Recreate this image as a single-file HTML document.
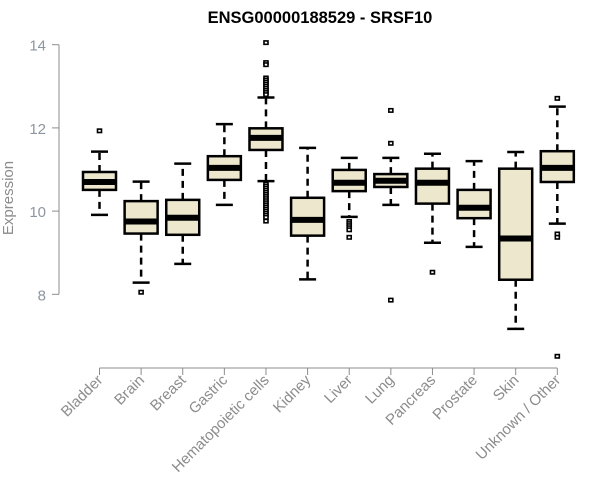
<!DOCTYPE html>
<html><head><meta charset="utf-8"><style>
body{margin:0;background:#fff}
svg{display:block;font-family:"Liberation Sans",Arial,sans-serif}
</style></head><body>
<svg id="chart" width="600" height="500">
<text x="320" y="23" text-anchor="middle" font-size="16.5" font-weight="bold">ENSG00000188529 - SRSF10</text>
<text transform="translate(13,198) rotate(-90)" text-anchor="middle" font-size="15" fill="#8c8c8c">Expression</text>
<g id="axes"></g><g id="boxes"></g>
</svg>
<script>
const categories=["Bladder","Brain","Breast","Gastric","Hematopoietic cells","Kidney","Liver","Lung","Pancreas","Prostate","Skin","Unknown / Other"];
const lowerWhisker=[9.91,8.28,8.73,10.15,10.72,8.36,9.86,10.15,9.24,9.14,7.17,9.70];
const q1=[10.51,9.46,9.43,10.75,11.47,9.41,10.48,10.58,10.18,9.83,8.35,10.70];
const medians=[10.70,9.75,9.84,11.04,11.76,9.79,10.68,10.73,10.68,10.08,9.34,11.04];
const q3=[10.94,10.24,10.27,11.32,11.99,10.32,10.99,10.89,11.02,10.51,11.02,11.44];
const upperWhisker=[11.43,10.71,11.14,12.09,12.73,11.52,11.28,11.28,11.38,11.20,11.42,12.51];
const outliers=[[11.93],[8.05],[],[],[14.05,13.57,13.52,13.2,13.15,13.1,13.05,13.0,12.95,12.9,12.85,12.8,10.65,10.6,10.55,10.5,10.45,10.4,10.35,10.3,10.25,10.2,10.15,10.1,10.05,10.0,9.95,9.9,9.85,9.76],[],[9.75,9.7,9.65,9.6,9.55,9.37],[12.42,11.63,7.86],[8.53],[],[],[12.71,9.45,9.37,6.51]];
const yTicks=[8,10,12,14];
const NS="http://www.w3.org/2000/svg";
const y=v=>294.3-(v-8)*41.6;
const x=i=>99.5+i*41.62;
function mk(t,a,p){const e=document.createElementNS(NS,t);for(const k in a)e.setAttribute(k,a[k]);p.appendChild(e);return e;}
const ax=document.getElementById('axes'),bx=document.getElementById('boxes');
let yl=mk('line',{x1:59,x2:59,y1:y(14),y2:y(8),stroke:'#8c8c8c'},ax);


yTicks.forEach(t=>{
 let l=mk('line',{x1:52,x2:59,y1:y(t),y2:y(t),stroke:'#8c8c8c'},ax);
 
 
 let tx=mk('text',{x:46,y:y(t)+6,'text-anchor':'end','font-size':15,fill:'#8c96a0'},ax);
 tx.textContent=t;
 
 
});
let xl=mk('line',{x1:x(0),x2:x(categories.length-1),y1:368,y2:368,stroke:'#8c8c8c'},ax);


categories.forEach((c,i)=>{
 let l=mk('line',{x1:x(i),x2:x(i),y1:368,y2:375,stroke:'#8c8c8c'},ax);
 
 
 let tx=mk('text',{transform:`translate(${x(i)+4},381) rotate(-45)`,'text-anchor':'end','font-size':15,fill:'#8c8c8c'},ax);
 tx.textContent=c;
 
 
 const g=mk('g',{},bx);
 
 
 const cx=x(i),hw=16.5;
 mk('line',{x1:cx,x2:cx,y1:y(q3[i]),y2:y(upperWhisker[i]),stroke:'#000','stroke-width':2.5,'stroke-dasharray':'7,5'},g);
 mk('line',{x1:cx,x2:cx,y1:y(q1[i]),y2:y(lowerWhisker[i]),stroke:'#000','stroke-width':2.5,'stroke-dasharray':'7,5'},g);
 mk('line',{x1:cx-8.5,x2:cx+8.5,y1:y(upperWhisker[i]),y2:y(upperWhisker[i]),stroke:'#000','stroke-width':2.5},g);
 mk('line',{x1:cx-8.5,x2:cx+8.5,y1:y(lowerWhisker[i]),y2:y(lowerWhisker[i]),stroke:'#000','stroke-width':2.5},g);
 mk('rect',{x:cx-hw,y:y(q3[i]),width:hw*2,height:y(q1[i])-y(q3[i]),fill:'#ede7cd',stroke:'#000','stroke-width':2.5},g);
 mk('line',{x1:cx-hw,x2:cx+hw,y1:y(medians[i]),y2:y(medians[i]),stroke:'#000','stroke-width':6},g);
 outliers[i].forEach(o=>{
  let r=mk('rect',{x:cx-2,y:y(o)-1.7,width:4,height:3.4,fill:'#fff',stroke:'#000','stroke-width':1.6},g);
  
  
 });
});
</script>
</body></html>
